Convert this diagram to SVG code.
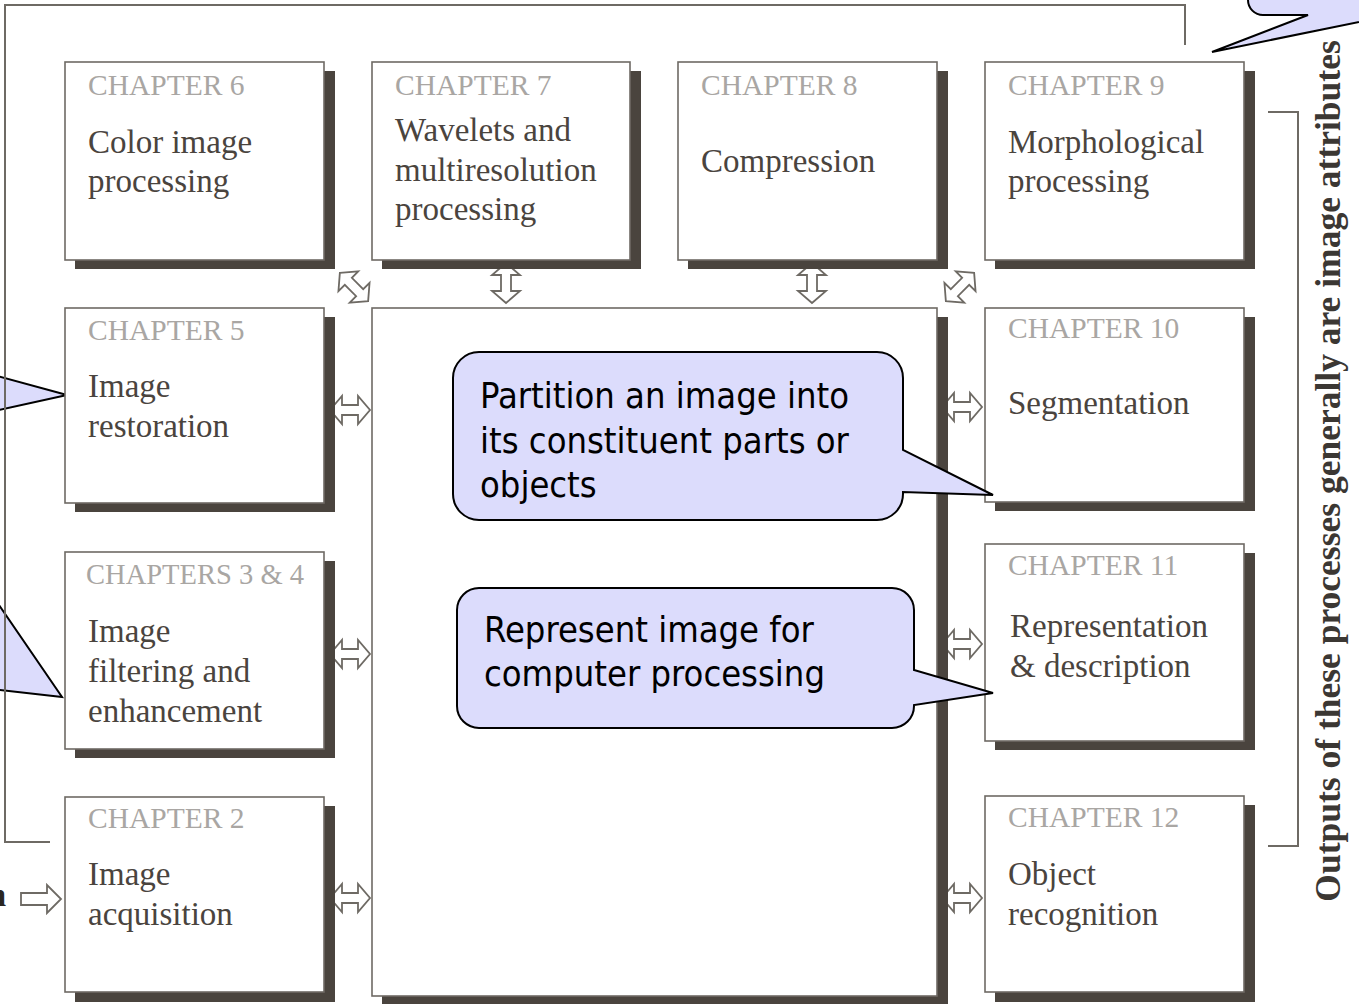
<svg xmlns="http://www.w3.org/2000/svg" width="1359" height="1004" viewBox="0 0 1359 1004">
<defs>
<style>
.shadow{fill:#4a443e}
.box{fill:#ffffff;stroke:#6e6a64;stroke-width:1.6}
.lbl{font-family:"Liberation Serif",serif;font-size:29.5px;fill:#a9a6a3}
.body{font-family:"Liberation Serif",serif;font-size:33px;fill:#4a443e}
.line{fill:none;stroke:#6e6a64;stroke-width:2}
.arr{fill:#ffffff;stroke:#6e6a64;stroke-width:1.8;stroke-linejoin:miter}
.bub{fill:#dcdcfc;stroke:#000000;stroke-width:2;stroke-linejoin:miter}
.btxt{font-family:"DejaVu Sans Condensed","DejaVu Sans",sans-serif;font-stretch:condensed;font-size:36px;fill:#000000}
.side{font-family:"Liberation Serif",serif;font-weight:bold;font-size:35.5px;fill:#3b3733}
</style>
<path id="dbl" d="M-20,0 L-8,-14 L-8,-5 L8,-5 L8,-14 L20,0 L8,14 L8,5 L-8,5 L-8,14 Z"/>
</defs>
<rect width="1359" height="1004" fill="#ffffff"/>

<g id="bubble-left-1">
<path class="bub" d="M-300,300 H-10 V374 L67,395 L-10,412 V480 H-300 Z"/>
</g>
<g id="bubble-left-2">
<path class="bub" d="M-300,520 H-10 V592 L62,697 L-10,689 V760 H-300 Z"/>
</g>

<g id="connectors">
<path class="line" d="M50,842 H5 V5 H1185 V45"/>
<path class="line" d="M1268,112 H1298 V846 H1268"/>
<use href="#dbl" class="arr" transform="translate(354,287) rotate(45)"/>
<use href="#dbl" class="arr" transform="translate(506,283) rotate(90)"/>
<use href="#dbl" class="arr" transform="translate(812,283) rotate(90)"/>
<use href="#dbl" class="arr" transform="translate(960,287) rotate(-45)"/>
<use href="#dbl" class="arr" transform="translate(350,410)"/>
<use href="#dbl" class="arr" transform="translate(350,654)"/>
<use href="#dbl" class="arr" transform="translate(350,898)"/>
<use href="#dbl" class="arr" transform="translate(962,407)"/>
<use href="#dbl" class="arr" transform="translate(962,644)"/>
<use href="#dbl" class="arr" transform="translate(962,898)"/>
<path class="arr" d="M21,893 H47 V885 L61,899 L47,913 V905 H21 Z"/>
</g>

<text x="6" y="906" text-anchor="end" font-family="Liberation Serif, serif" font-weight="bold" font-size="33" fill="#2a2622">n</text>

<g id="ch6">
<rect class="shadow" x="75" y="71" width="260" height="198"/>
<rect class="box" x="65" y="62" width="259" height="198"/>
<text class="lbl" x="88" y="95">CHAPTER 6</text>
<text class="body" x="88" y="153">Color image</text>
<text class="body" x="88" y="192">processing</text>
</g>
<g id="ch7">
<rect class="shadow" x="382" y="71" width="259" height="198"/>
<rect class="box" x="372" y="62" width="258" height="198"/>
<text class="lbl" x="395" y="95">CHAPTER 7</text>
<text class="body" x="395" y="141">Wavelets and</text>
<text class="body" x="395" y="181">multiresolution</text>
<text class="body" x="395" y="220">processing</text>
</g>
<g id="ch8">
<rect class="shadow" x="688" y="71" width="260" height="198"/>
<rect class="box" x="678" y="62" width="259" height="198"/>
<text class="lbl" x="701" y="95">CHAPTER 8</text>
<text class="body" x="701" y="172">Compression</text>
</g>
<g id="ch9">
<rect class="shadow" x="995" y="71" width="260" height="198"/>
<rect class="box" x="985" y="62" width="259" height="198"/>
<text class="lbl" x="1008" y="95">CHAPTER 9</text>
<text class="body" x="1008" y="153">Morphological</text>
<text class="body" x="1008" y="192">processing</text>
</g>
<g id="ch5">
<rect class="shadow" x="75" y="317" width="260" height="195"/>
<rect class="box" x="65" y="308" width="259" height="195"/>
<text class="lbl" x="88" y="340">CHAPTER 5</text>
<text class="body" x="88" y="397">Image</text>
<text class="body" x="88" y="437">restoration</text>
</g>
<g id="ch3-4">
<rect class="shadow" x="75" y="561" width="260" height="197"/>
<rect class="box" x="65" y="552" width="259" height="197"/>
<text class="lbl" x="86" y="584" textLength="218" lengthAdjust="spacingAndGlyphs">CHAPTERS 3 &amp; 4</text>
<text class="body" x="88" y="642">Image</text>
<text class="body" x="88" y="682">filtering and</text>
<text class="body" x="88" y="722">enhancement</text>
</g>
<g id="ch2">
<rect class="shadow" x="75" y="806" width="260" height="196"/>
<rect class="box" x="65" y="797" width="259" height="195"/>
<text class="lbl" x="88" y="828">CHAPTER 2</text>
<text class="body" x="88" y="885">Image</text>
<text class="body" x="88" y="925">acquisition</text>
</g>
<g id="center">
<rect class="shadow" x="382" y="317" width="566" height="690"/>
<rect class="box" x="372" y="308" width="565" height="688"/>
</g>
<g id="ch10">
<rect class="shadow" x="995" y="317" width="260" height="194"/>
<rect class="box" x="985" y="308" width="259" height="194"/>
<text class="lbl" x="1008" y="338">CHAPTER 10</text>
<text class="body" x="1008" y="414">Segmentation</text>
</g>
<g id="ch11">
<rect class="shadow" x="995" y="553" width="260" height="197"/>
<rect class="box" x="985" y="544" width="259" height="197"/>
<text class="lbl" x="1008" y="575">CHAPTER 11</text>
<text class="body" x="1010" y="637">Representation</text>
<text class="body" x="1010" y="677">&amp; description</text>
</g>
<g id="ch12">
<rect class="shadow" x="995" y="805" width="260" height="197"/>
<rect class="box" x="985" y="796" width="259" height="196"/>
<text class="lbl" x="1008" y="827">CHAPTER 12</text>
<text class="body" x="1008" y="885">Object</text>
<text class="body" x="1008" y="925">recognition</text>
</g>

<g id="side-label">
<text class="side" text-anchor="middle" transform="translate(1340,471) rotate(-90)">Outputs of these processes generally are image attributes</text>
</g>

<g id="bubble-partition">
<path class="bub" d="M479,352 H877 A26,26 0 0 1 903,378 V450 L993,495 L903,492 V494 A26,26 0 0 1 877,520 H479 A26,26 0 0 1 453,494 V378 A26,26 0 0 1 479,352 Z"/>
<text class="btxt" x="480" y="408">Partition an image into</text>
<text class="btxt" x="480" y="453">its constituent parts or</text>
<text class="btxt" x="480" y="497">objects</text>
</g>
<g id="bubble-represent">
<path class="bub" d="M479,588 H892 A22,22 0 0 1 914,610 V670 L993,693 L914,705 V706 A22,22 0 0 1 892,728 H479 A22,22 0 0 1 457,706 V610 A22,22 0 0 1 479,588 Z"/>
<text class="btxt" x="484" y="642">Represent image for</text>
<text class="btxt" x="484" y="686">computer processing</text>
</g>
<g id="bubble-top-right">
<path class="bub" d="M1248,-40 V0 A15,15 0 0 0 1263,15 H1308 L1212,52 L1393,15 H1420 V-40 Z"/>
</g>
</svg>
